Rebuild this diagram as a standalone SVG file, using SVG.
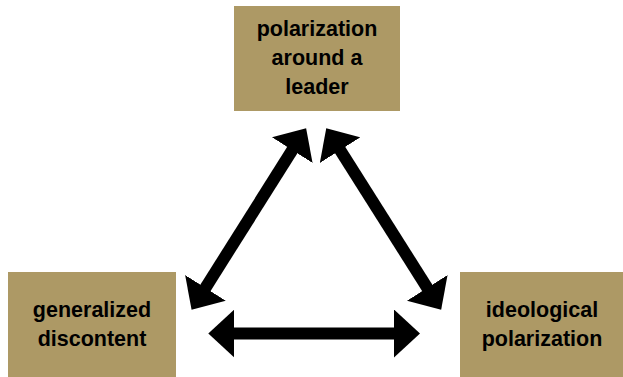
<svg xmlns="http://www.w3.org/2000/svg" width="623" height="377" viewBox="0 0 623 377">
<style>
.box{fill:#ad9965}
.lbl{font-family:"Liberation Sans",Arial,sans-serif;font-weight:bold;font-size:21.5px;fill:#000;text-anchor:middle}
.arr{stroke:#000;stroke-width:12;fill:none;marker-start:url(#head);marker-end:url(#head)}
</style>
<defs>
<marker id="head" markerUnits="userSpaceOnUse" viewBox="0 0 26 48" refX="1" refY="24" markerWidth="26" markerHeight="48" orient="auto-start-reverse">
<path d="M0,0 L26,24 L0,48 Z" fill="#000"/>
</marker>
</defs>
<rect width="623" height="377" fill="#fff"/>
<g id="node-leader">
<rect class="box" x="234" y="6" width="166" height="105"/>
<text class="lbl" x="317" y="36">polarization</text>
<text class="lbl" x="317" y="65">around a</text>
<text class="lbl" x="317" y="94">leader</text>
</g>
<g id="node-discontent">
<rect class="box" x="8" y="272" width="168" height="105"/>
<text class="lbl" x="92" y="317">generalized</text>
<text class="lbl" x="92" y="346">discontent</text>
</g>
<g id="node-ideological">
<rect class="box" x="460" y="272" width="163" height="105"/>
<text class="lbl" x="542" y="317">ideological</text>
<text class="lbl" x="542" y="346">polarization</text>
</g>
<g id="connectors">
<line class="arr" x1="292.8" y1="149.3" x2="204.9" y2="288.7"/>
<line class="arr" x1="339.6" y1="149.3" x2="427.8" y2="288.7"/>
<line class="arr" x1="233.3" y1="333.5" x2="395" y2="333.5"/>
</g>
</svg>
